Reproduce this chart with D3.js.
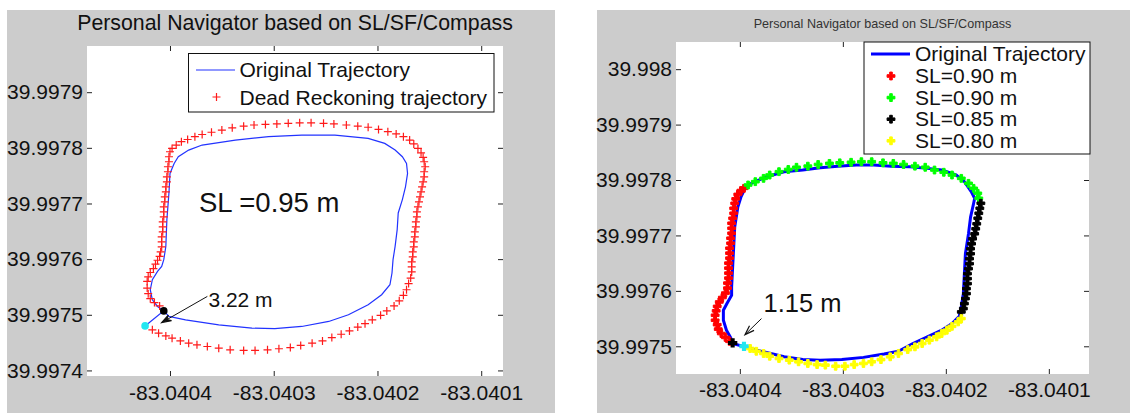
<!DOCTYPE html>
<html><head><meta charset="utf-8">
<script src="https://cdn.jsdelivr.net/npm/d3@7"></script>
<style>
body{margin:0;background:#fff}
svg{display:block}
text{font-family:"Liberation Sans",Arial,Helvetica,sans-serif;fill:#111}
</style>
</head><body>
<svg id="c" width="1130" height="415"></svg>
<script>
// ---------- axis values ----------
const xTicks = [-83.0404, -83.0403, -83.0402, -83.0401];
const xTickLabels = ["-83.0404", "-83.0403", "-83.0402", "-83.0401"];
const leftYTicks = [39.9974, 39.9975, 39.9976, 39.9977, 39.9978, 39.9979];
const leftYTickLabels = ["39.9974", "39.9975", "39.9976", "39.9977", "39.9978", "39.9979"];
const rightYTicks = [39.9975, 39.9976, 39.9977, 39.9978, 39.9979, 39.998];
const rightYTickLabels = ["39.9975", "39.9976", "39.9977", "39.9978", "39.9979", "39.998"];
const leftXLimits = [-83.040480, -83.040079];
const leftYLimits = [39.997390, 39.997983];
const rightXLimits = [-83.040462, -83.040061];
const rightYLimits = [39.997450, 39.998049];

const titleText = "Personal Navigator based on SL/SF/Compass";
const leftLegend = ["Original Trajectory", "Dead Reckoning trajectory"];
const rightLegend = ["Original Trajectory", "SL=0.90 m", "SL=0.90 m", "SL=0.85 m", "SL=0.80 m"];

// ---------- left panel data ----------
const leftOrigLon = [-83.040424,-83.040406,-83.040401,-83.040385,-83.040353,-83.040321,-83.040299,-83.040273,-83.040247,-83.040228,-83.040209,-83.040196,-83.040188,-83.040186,-83.040185,-83.040183,-83.040181,-83.040180,-83.040176,-83.040173,-83.040171,-83.040172,-83.040176,-83.040183,-83.040193,-83.040209,-83.040241,-83.040273,-83.040305,-83.040337,-83.040369,-83.040382,-83.040392,-83.040396,-83.040400,-83.040401,-83.040403,-83.040404,-83.040406,-83.040408,-83.040412,-83.040417,-83.040419,-83.040417,-83.040412,-83.040406];
const leftOrigLat = [39.997480,39.997507,39.997497,39.997491,39.997482,39.997476,39.997475,39.997479,39.997488,39.997500,39.997518,39.997536,39.997554,39.997575,39.997599,39.997623,39.997653,39.997683,39.997707,39.997730,39.997754,39.997772,39.997784,39.997796,39.997808,39.997817,39.997823,39.997823,39.997820,39.997814,39.997805,39.997796,39.997784,39.997772,39.997754,39.997719,39.997671,39.997623,39.997599,39.997587,39.997578,39.997563,39.997545,39.997527,39.997515,39.997507];
const leftDRLon = [-83.040410,-83.040415,-83.040419,-83.040421,-83.040422,-83.040422,-83.040421,-83.040419,-83.040416,-83.040414,-83.040412,-83.040410,-83.040409,-83.040408,-83.040408,-83.040408,-83.040407,-83.040407,-83.040407,-83.040406,-83.040406,-83.040406,-83.040405,-83.040405,-83.040404,-83.040404,-83.040403,-83.040403,-83.040402,-83.040402,-83.040401,-83.040401,-83.040400,
-83.040398,-83.040394,-83.040389,-83.040383,-83.040376,-83.040369,-83.040360,-83.040350,-83.040340,-83.040329,-83.040319,-83.040308,-83.040297,-83.040286,-83.040275,-83.040264,-83.040252,-83.040242,-83.040230,-83.040219,-83.040209,-83.040199,-83.040190,-83.040182,
-83.040175,-83.040169,-83.040165,-83.040161,-83.040158,-83.040156,-83.040155,-83.040154,-83.040155,-83.040155,-83.040156,-83.040157,-83.040158,-83.040159,-83.040160,-83.040161,-83.040162,-83.040162,-83.040163,-83.040163,-83.040164,-83.040164,-83.040165,-83.040165,-83.040166,-83.040166,-83.040167,-83.040167,-83.040167,-83.040168,-83.040170,-83.040172,-83.040175,-83.040179,
-83.040184,-83.040191,-83.040197,-83.040205,-83.040212,-83.040219,-83.040227,-83.040235,-83.040244,-83.040253,-83.040263,-83.040274,-83.040284,-83.040295,-83.040306,-83.040318,-83.040329,-83.040342,-83.040353,-83.040364,-83.040374,-83.040382,-83.040390,-83.040398,-83.040404,-83.040411,-83.040417];
const leftDRLat = [39.997516,39.997522,39.997529,39.997538,39.997548,39.997560,39.997568,39.997576,39.997583,39.997591,39.997598,39.997605,39.997613,39.997622,39.997631,39.997640,39.997649,39.997658,39.997667,39.997676,39.997685,39.997694,39.997703,39.997712,39.997721,39.997730,39.997739,39.997748,39.997757,39.997766,39.997775,39.997784,39.997793,
39.997799,39.997805,39.997811,39.997815,39.997820,39.997824,39.997828,39.997832,39.997836,39.997839,39.997841,39.997842,39.997843,39.997844,39.997845,39.997845,39.997844,39.997843,39.997841,39.997839,39.997837,39.997833,39.997829,39.997825,
39.997820,39.997814,39.997807,39.997799,39.997791,39.997783,39.997775,39.997766,39.997757,39.997748,39.997739,39.997730,39.997721,39.997712,39.997703,39.997694,39.997685,39.997676,39.997667,39.997658,39.997649,39.997640,39.997631,39.997622,39.997613,39.997604,39.997595,39.997586,39.997577,39.997566,39.997556,39.997545,39.997535,39.997525,
39.997516,39.997507,39.997499,39.997491,39.997484,39.997478,39.997471,39.997465,39.997459,39.997453,39.997449,39.997445,39.997441,39.997439,39.997437,39.997436,39.997436,39.997437,39.997440,39.997443,39.997446,39.997449,39.997453,39.997458,39.997462,39.997467,39.997473];
const leftStart = [-83.040406, 39.997507];
const leftEnd = [-83.040424, 39.997480];
const leftNote = {text: "SL =0.95 m", lon: -83.040372, lat: 39.997684};
const leftErr = {text: "3.22 m", lon: -83.040363, lat: 39.997514, fromLon: -83.040364, fromLat: 39.997533, toLon: -83.040408, toLat: 39.997486};

// ---------- right panel data ----------
const rightOrigLon = [-83.040407,-83.040395,-83.040377,-83.040357,-83.040339,-83.040322,-83.040301,-83.040280,-83.040260,-83.040246,-83.040232,-83.040218,-83.040204,-83.040194,-83.040187,-83.040185,-83.040183,-83.040182,-83.040181,-83.040178,-83.040176,-83.040173,-83.040172,-83.040175,-83.040182,-83.040190,-83.040204,-83.040218,-83.040235,-83.040253,-83.040270,-83.040287,-83.040305,-83.040322,-83.040339,-83.040357,-83.040374,-83.040388,-83.040395,-83.040399,-83.040402,-83.040405,-83.040406,-83.040407,-83.040408,-83.040408,-83.040412,-83.040416,-83.040416,-83.040413,-83.040409,-83.040407];
const rightOrigLat = [39.997505,39.997499,39.997490,39.997481,39.997476,39.997475,39.997476,39.997480,39.997486,39.997491,39.997505,39.997517,39.997529,39.997541,39.997554,39.997571,39.997595,39.997631,39.997667,39.997703,39.997733,39.997758,39.997767,39.997778,39.997797,39.997809,39.997818,39.997821,39.997824,39.997825,39.997827,39.997827,39.997825,39.997822,39.997818,39.997815,39.997806,39.997795,39.997785,39.997769,39.997751,39.997715,39.997679,39.997643,39.997607,39.997592,39.997579,39.997565,39.997547,39.997529,39.997516,39.997505];
const redLon = [-83.040410,-83.040414,-83.040418,-83.040421,-83.040422,-83.040424,-83.040424,-83.040423,-83.040422,-83.040420,-83.040417,-83.040414,-83.040412,-83.040412,-83.040411,-83.040411,-83.040411,-83.040411,-83.040410,-83.040410,-83.040410,-83.040409,-83.040409,-83.040408,-83.040408,-83.040408,-83.040407,-83.040406,-83.040406,-83.040405,-83.040404,-83.040402,-83.040399,-83.040396];
const redLat = [39.997509,39.997516,39.997523,39.997531,39.997539,39.997547,39.997556,39.997564,39.997572,39.997580,39.997588,39.997596,39.997605,39.997614,39.997623,39.997632,39.997641,39.997650,39.997659,39.997668,39.997677,39.997686,39.997695,39.997704,39.997713,39.997722,39.997731,39.997740,39.997749,39.997758,39.997766,39.997774,39.997781,39.997785];
const greenLon = [-83.040392,-83.040385,-83.040377,-83.040371,-83.040362,-83.040353,-83.040345,-83.040334,-83.040324,-83.040313,-83.040303,-83.040292,-83.040282,-83.040272,-83.040261,-83.040251,-83.040241,-83.040230,-83.040220,-83.040211,-83.040202,-83.040194,-83.040185,-83.040178,-83.040173,-83.040169,-83.040168];
const greenLat = [39.997791,39.997797,39.997803,39.997809,39.997815,39.997819,39.997823,39.997825,39.997828,39.997830,39.997831,39.997832,39.997833,39.997833,39.997831,39.997830,39.997828,39.997825,39.997823,39.997818,39.997814,39.997809,39.997803,39.997794,39.997785,39.997776,39.997767];
const blackLon = [-83.040166,-83.040167,-83.040168,-83.040169,-83.040170,-83.040171,-83.040172,-83.040174,-83.040175,-83.040176,-83.040176,-83.040177,-83.040177,-83.040178,-83.040179,-83.040179,-83.040179,-83.040180,-83.040180,-83.040181,-83.040182,-83.040183,-83.040185];
const blackLat = [39.997758,39.997749,39.997740,39.997731,39.997721,39.997712,39.997703,39.997694,39.997685,39.997676,39.997667,39.997658,39.997649,39.997640,39.997631,39.997622,39.997613,39.997604,39.997595,39.997586,39.997577,39.997568,39.997562];
const yellowLon = [-83.040185,-83.040188,-83.040194,-83.040199,-83.040204,-83.040209,-83.040216,-83.040223,-83.040230,-83.040237,-83.040246,-83.040254,-83.040263,-83.040272,-83.040280,-83.040289,-83.040298,-83.040307,-83.040317,-83.040325,-83.040334,-83.040343,-83.040352,-83.040362,-83.040371,-83.040377,-83.040384,-83.040390];
const yellowLat = [39.997550,39.997544,39.997536,39.997529,39.997523,39.997517,39.997511,39.997505,39.997499,39.997494,39.997487,39.997481,39.997476,39.997472,39.997469,39.997467,39.997464,39.997464,39.997466,39.997467,39.997469,39.997472,39.997475,39.997478,39.997482,39.997487,39.997491,39.997496];
const rightStart = [-83.040407, 39.997506];
const rightEnd = [-83.040396, 39.997500];
const rightErr = {text: "1.15 m", lon: -83.040377, lat: 39.997561, fromLon: -83.040379, fromLat: 39.997550, toLon: -83.040395, toLat: 39.997521};

// ---------- drawing ----------
const svg = d3.select("#c");
const zip = (a, b) => a.map((v, i) => [v, b[i]]);

function setupPanel(p) {
  const g = svg.append("g");
  g.append("rect").attr("x", p.bg[0]).attr("y", p.bg[1]).attr("width", p.bg[2]).attr("height", p.bg[3]).attr("fill", "#cccccc");
  const x = d3.scaleLinear().domain(p.xLim).range([p.box[0], p.box[1]]);
  const y = d3.scaleLinear().domain(p.yLim).range([p.box[3], p.box[2]]);
  g.append("rect").attr("x", p.box[0]).attr("y", p.box[2]).attr("width", p.box[1] - p.box[0]).attr("height", p.box[3] - p.box[2]).attr("fill", "#fff");
  // title
  g.append("text").attr("x", (p.box[0] + p.box[1]) / 2).attr("y", p.titleY).attr("text-anchor", "middle")
    .style("font-size", p.titleSize + "px").style("fill", p.titleColor).text(titleText);
  const fmtX = (d, i) => xTickLabels[i];
  const fmtY = (d, i) => p.yLabels[i];
  const ax = (axis, tx, ty) => {
    const a = g.append("g").attr("transform", `translate(${tx},${ty})`).call(axis);
    a.select(".domain").remove();
    a.selectAll(".tick line").attr("stroke", "#222");
    a.selectAll("text").style("font-size", "21px").style("fill", "#111").attr("font-family", null);
    return a;
  };
  ax(d3.axisBottom(x).tickValues(xTicks).tickFormat(fmtX).tickSizeInner(-5).tickSizeOuter(0).tickPadding(p.xPad), 0, p.box[3]);
  ax(d3.axisTop(x).tickValues(xTicks).tickFormat("").tickSizeInner(-5).tickSizeOuter(0), 0, p.box[2]);
  ax(d3.axisLeft(y).tickValues(p.yTicks).tickFormat(fmtY).tickSizeInner(-5).tickSizeOuter(0).tickPadding(p.yPad), p.box[0], 0);
  ax(d3.axisRight(y).tickValues(p.yTicks).tickFormat("").tickSizeInner(-5).tickSizeOuter(0), p.box[1], 0);
  return {g, x, y};
}

function arrow(g, x, y, e, filled) {
  const x1 = x(e.fromLon), y1 = y(e.fromLat), x2 = x(e.toLon), y2 = y(e.toLat);
  g.append("line").attr("x1", x1).attr("y1", y1).attr("x2", x2).attr("y2", y2).attr("stroke", "#111").attr("stroke-width", 1);
  const ang = Math.atan2(y2 - y1, x2 - x1), L = 10, w = 0.33;
  const p1 = [x2 - L * Math.cos(ang - w), y2 - L * Math.sin(ang - w)];
  const p2 = [x2 - L * Math.cos(ang + w), y2 - L * Math.sin(ang + w)];
  const pm = [x2 - 0.6 * L * Math.cos(ang), y2 - 0.6 * L * Math.sin(ang)];
  g.append("path").attr("d", `M${p1}L${x2},${y2}L${p2}` + (filled ? `L${pm}Z` : ""))
    .attr("fill", filled ? "#111" : "none").attr("stroke", "#111").attr("stroke-width", 1.2).attr("stroke-linejoin", "miter");
}

// ===== Left panel =====
const L = setupPanel({bg: [7, 10, 548, 403], box: [87, 503, 46, 376], xLim: leftXLimits, yLim: leftYLimits,
  yTicks: leftYTicks, yLabels: leftYTickLabels, titleY: 30, titleSize: 21.3, titleColor: "#111", xPad: 9, yPad: 4});
const line = (x, y) => d3.line().x(d => x(d[0])).y(d => y(d[1]));
L.g.append("path").datum(zip(leftOrigLon, leftOrigLat)).attr("d", line(L.x, L.y))
  .attr("fill", "none").attr("stroke", "#2233ff").attr("stroke-width", 1.2);
const plus = "M-4,0H4M0,-4V4";
L.g.append("g").selectAll("path").data(zip(leftDRLon, leftDRLat)).join("path")
  .attr("transform", d => `translate(${L.x(d[0])},${L.y(d[1])})`).attr("d", plus)
  .attr("stroke", "#ff1a1a").attr("stroke-width", 1.2).attr("fill", "none");
L.g.append("circle").attr("cx", L.x(leftStart[0])).attr("cy", L.y(leftStart[1])).attr("r", 3.8).attr("fill", "#000");
L.g.append("circle").attr("cx", L.x(leftEnd[0])).attr("cy", L.y(leftEnd[1])).attr("r", 3.8).attr("fill", "#22e6f0");
L.g.append("text").attr("x", L.x(leftNote.lon)).attr("y", L.y(leftNote.lat)).style("font-size", "27.5px").text(leftNote.text);
L.g.append("text").attr("x", L.x(leftErr.lon)).attr("y", L.y(leftErr.lat)).style("font-size", "21px").text(leftErr.text);
arrow(L.g, L.x, L.y, leftErr, true);
// left legend
{
  const lg = L.g.append("g");
  lg.append("rect").attr("x", 188.5).attr("y", 53.5).attr("width", 305.5).attr("height", 58.5).attr("fill", "#fff").attr("stroke", "#111").attr("stroke-width", 1);
  lg.append("line").attr("x1", 196).attr("x2", 235).attr("y1", 70).attr("y2", 70).attr("stroke", "#2233ff").attr("stroke-width", 1.2);
  lg.append("path").attr("transform", "translate(216.5,97)").attr("d", plus).attr("stroke", "#ff1a1a").attr("stroke-width", 1.2);
  lg.selectAll("text").data(leftLegend).join("text").attr("x", 239.5).attr("y", (d, i) => 70 + i * 28).attr("dy", "0.35em")
    .style("font-size", "21px").text(d => d);
}

// ===== Right panel =====
const R = setupPanel({bg: [597, 10, 533, 403], box: [676, 1089, 42, 374], xLim: rightXLimits, yLim: rightYLimits,
  yTicks: rightYTicks, yLabels: rightYTickLabels, titleY: 27.5, titleSize: 12.6, titleColor: "#333", xPad: 8, yPad: 4});
R.g.append("path").datum(zip(rightOrigLon, rightOrigLat)).attr("d", line(R.x, R.y))
  .attr("fill", "none").attr("stroke", "#0000ff").attr("stroke-width", 3).attr("stroke-linejoin", "round");
const cross = d3.symbol(d3.symbolCross, 34)();
const series = [
  {lon: redLon, lat: redLat, color: "#ff0000"},
  {lon: greenLon, lat: greenLat, color: "#00ff00"},
  {lon: blackLon, lat: blackLat, color: "#000000"},
  {lon: yellowLon, lat: yellowLat, color: "#ffff00"}
];
series.forEach(s => {
  R.g.append("g").selectAll("path").data(zip(s.lon, s.lat)).join("path")
    .attr("transform", d => `translate(${R.x(d[0])},${R.y(d[1])})`).attr("d", cross)
    .attr("fill", s.color).attr("stroke", s.color).attr("stroke-width", 1);
});
R.g.append("path").attr("transform", `translate(${R.x(rightStart[0])},${R.y(rightStart[1])})`).attr("d", cross).attr("fill", "#000").attr("stroke", "#000").attr("stroke-width", 1.5);
R.g.append("path").attr("transform", `translate(${R.x(rightEnd[0])},${R.y(rightEnd[1])})`).attr("d", cross).attr("fill", "#22e6f0").attr("stroke", "#22e6f0").attr("stroke-width", 1.5);
R.g.append("text").attr("x", R.x(rightErr.lon)).attr("y", R.y(rightErr.lat)).style("font-size", "25.5px").text(rightErr.text);
arrow(R.g, R.x, R.y, rightErr, false);
// right legend
{
  const lg = R.g.append("g");
  lg.append("rect").attr("x", 864).attr("y", 42).attr("width", 226).attr("height", 112).attr("fill", "#fff").attr("stroke", "#111").attr("stroke-width", 1);
  lg.append("line").attr("x1", 871).attr("x2", 910).attr("y1", 54).attr("y2", 54).attr("stroke", "#0000ff").attr("stroke-width", 3);
  series.forEach((s, i) => {
    lg.append("path").attr("transform", `translate(891,${76 + i * 21.6})`).attr("d", cross).attr("fill", s.color).attr("stroke", s.color).attr("stroke-width", 1);
  });
  lg.selectAll("text").data(rightLegend).join("text").attr("x", 915).attr("y", (d, i) => 54 + i * 21.6).attr("dy", "0.35em")
    .style("font-size", "21px").text(d => d);
}
</script>
</body></html>
